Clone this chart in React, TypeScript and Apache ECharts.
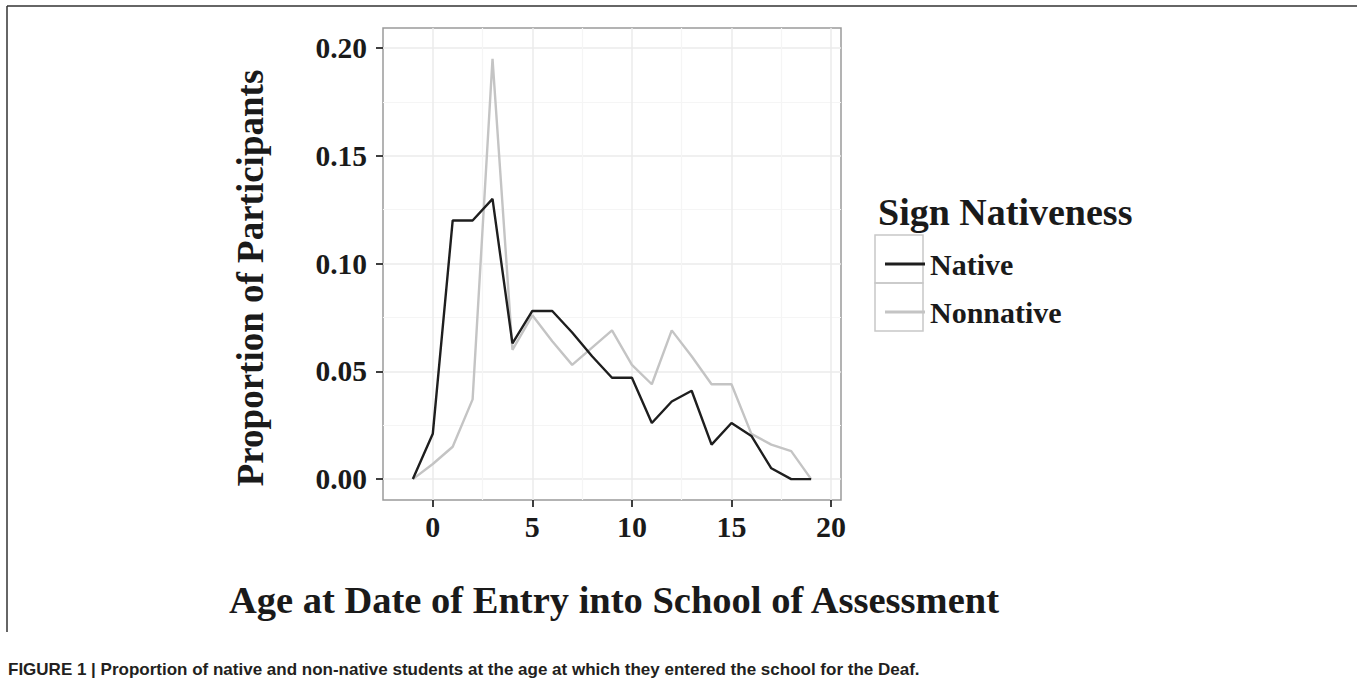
import React, { useEffect, useRef } from "react";
import * as echarts from "echarts";

// ---- data ----
const ages = [-1, 0, 1, 2, 3, 4, 5, 6, 7, 8, 9, 10, 11, 12, 13, 14, 15, 16, 17, 18, 19];
const nativeValues = [0, 0.021, 0.12, 0.12, 0.13, 0.063, 0.078, 0.078, 0.068, 0.057, 0.047, 0.047, 0.026, 0.036, 0.041, 0.016, 0.026, 0.02, 0.005, 0, 0];
const nonnativeValues = [0, 0.007, 0.015, 0.037, 0.195, 0.06, 0.076, 0.064, 0.053, 0.061, 0.069, 0.053, 0.044, 0.069, 0.057, 0.044, 0.044, 0.021, 0.016, 0.013, 0];
const seriesNames = ["Native", "Nonnative"];
const xMajorTicks = [0, 5, 10, 15, 20];
const xMinorTicks = [2.5, 7.5, 12.5, 17.5];
const yMajorTicks = [0, 0.05, 0.1, 0.15, 0.2];
const yMinorTicks = [0.025, 0.075, 0.125, 0.175];
const xTitle = "Age at Date of Entry into School of Assessment";
const yTitle = "Proportion of Participants";
const legendTitle = "Sign Nativeness";
const caption =
  "FIGURE 1 | Proportion of native and non-native students at the age at which they entered the school for the Deaf.";

const SERIF = "'Liberation Serif', 'Times New Roman', serif";
const SANS = "'Liberation Sans', Arial, sans-serif";

export default function App() {
  const ref = useRef<HTMLDivElement>(null);

  useEffect(() => {
    document.body.style.margin = "0";
    if (!ref.current) return;
    const chart = echarts.init(ref.current, null, { renderer: "svg" });

    const gridLeft = 383;
    const gridTop = 28;
    const gridW = 458;
    const gridH = 472;
    const xMin = -2.5;
    const xMax = 20.5;
    const yMin = -0.0097;
    const yMax = 0.2093;

    const tickStyle = { color: "#2a2a2a", width: 1.8 };

    chart.setOption({
      animation: false,
      grid: {
        left: gridLeft,
        top: gridTop,
        width: gridW,
        height: gridH,
        show: true,
        borderColor: "#9a9a9a",
        borderWidth: 1.5,
      },
      xAxis: [
        {
          type: "value",
          position: "bottom",
          min: xMin,
          max: xMax,
          axisLine: { show: false, onZero: false },
          axisTick: { show: false, customValues: xMinorTicks },
          axisLabel: { show: false, customValues: xMinorTicks },
          splitLine: { show: true, lineStyle: { color: "#f5f5f5", width: 1.2 } },
        },
        {
          type: "value",
          position: "bottom",
          min: xMin,
          max: xMax,
          axisLine: { show: false, onZero: false },
          axisTick: {
            show: true,
            customValues: xMajorTicks,
            length: 7,
            lineStyle: tickStyle,
          },
          axisLabel: {
            customValues: xMajorTicks,
            margin: 11,
            fontSize: 30,
            fontWeight: "bold",
            fontFamily: SERIF,
            color: "#1a1a1a",
          },
          splitLine: { show: true, lineStyle: { color: "#ebebeb", width: 1.5 } },
        },
      ],
      yAxis: [
        {
          type: "value",
          position: "left",
          min: yMin,
          max: yMax,
          axisLine: { show: false, onZero: false },
          axisTick: { show: false, customValues: yMinorTicks },
          axisLabel: { show: false, customValues: yMinorTicks },
          splitLine: { show: true, lineStyle: { color: "#f5f5f5", width: 1.2 } },
        },
        {
          type: "value",
          position: "left",
          min: yMin,
          max: yMax,
          axisLine: { show: false, onZero: false },
          axisTick: {
            show: true,
            customValues: yMajorTicks,
            length: 7,
            lineStyle: tickStyle,
          },
          axisLabel: {
            customValues: yMajorTicks,
            margin: 16,
            fontSize: 29.5,
            fontWeight: "bold",
            fontFamily: SERIF,
            color: "#1a1a1a",
            formatter: (v: number) => v.toFixed(2),
          },
          splitLine: { show: true, lineStyle: { color: "#ebebeb", width: 1.5 } },
        },
      ],
      legend: {
        orient: "vertical",
        left: 880,
        top: 244,
        itemWidth: 40,
        itemHeight: 3,
        itemGap: 18,
        itemStyle: { borderWidth: 0 },
        icon: "rect",
        data: seriesNames,
        textStyle: {
          fontSize: 30,
          lineHeight: 30,
          fontWeight: "bold",
          fontFamily: SERIF,
          color: "#1a1a1a",
        },
      },
      series: [
        {
          name: seriesNames[1],
          type: "line",
          xAxisIndex: 1,
          yAxisIndex: 1,
          showSymbol: false,
          symbol: "none",
          data: ages.map((a, i) => [a, nonnativeValues[i]]),
          lineStyle: { color: "#c4c4c4", width: 2.4 },
          itemStyle: { color: "#c4c4c4" },
          z: 4,
        },
        {
          name: seriesNames[0],
          type: "line",
          xAxisIndex: 1,
          yAxisIndex: 1,
          showSymbol: false,
          symbol: "none",
          data: ages.map((a, i) => [a, nativeValues[i]]),
          lineStyle: { color: "#1e1e1e", width: 2.4 },
          itemStyle: { color: "#1e1e1e" },
          z: 5,
        },
      ],
      graphic: [
        // figure frame (top and left rules)
        { type: "line", shape: { x1: 7, y1: 6, x2: 1357, y2: 6 }, style: { stroke: "#333", lineWidth: 1.5 } },
        { type: "line", shape: { x1: 7, y1: 6, x2: 7, y2: 632 }, style: { stroke: "#333", lineWidth: 1.5 } },
        // legend key boxes
        { type: "rect", shape: { x: 875, y: 235, width: 48, height: 48 }, style: { fill: "none", stroke: "#c8c8c8", lineWidth: 1.5 } },
        { type: "rect", shape: { x: 875, y: 283, width: 48, height: 48 }, style: { fill: "none", stroke: "#c8c8c8", lineWidth: 1.5 } },
        {
          type: "text",
          x: 878,
          y: 212,
          style: {
            text: legendTitle,
            font: `bold 38px ${SERIF}`,
            fill: "#1a1a1a",
            align: "left",
            verticalAlign: "middle",
          },
        },
        {
          type: "text",
          x: 614,
          y: 600,
          style: {
            text: xTitle,
            font: `bold 38.5px ${SERIF}`,
            fill: "#1a1a1a",
            align: "center",
            verticalAlign: "middle",
          },
        },
        {
          type: "text",
          x: 250,
          y: 278,
          rotation: Math.PI / 2,
          style: {
            text: yTitle,
            font: `bold 37px ${SERIF}`,
            fill: "#1a1a1a",
            align: "center",
            verticalAlign: "middle",
          },
        },
        {
          type: "text",
          x: 8,
          y: 669,
          style: {
            text: caption,
            font: `bold 17px ${SANS}`,
            fill: "#231f20",
            align: "left",
            verticalAlign: "middle",
          },
        },
      ],
    });

    return () => {
      chart.dispose();
    };
  }, []);

  return <div ref={ref} style={{ width: 1357, height: 696 }} />;
}
